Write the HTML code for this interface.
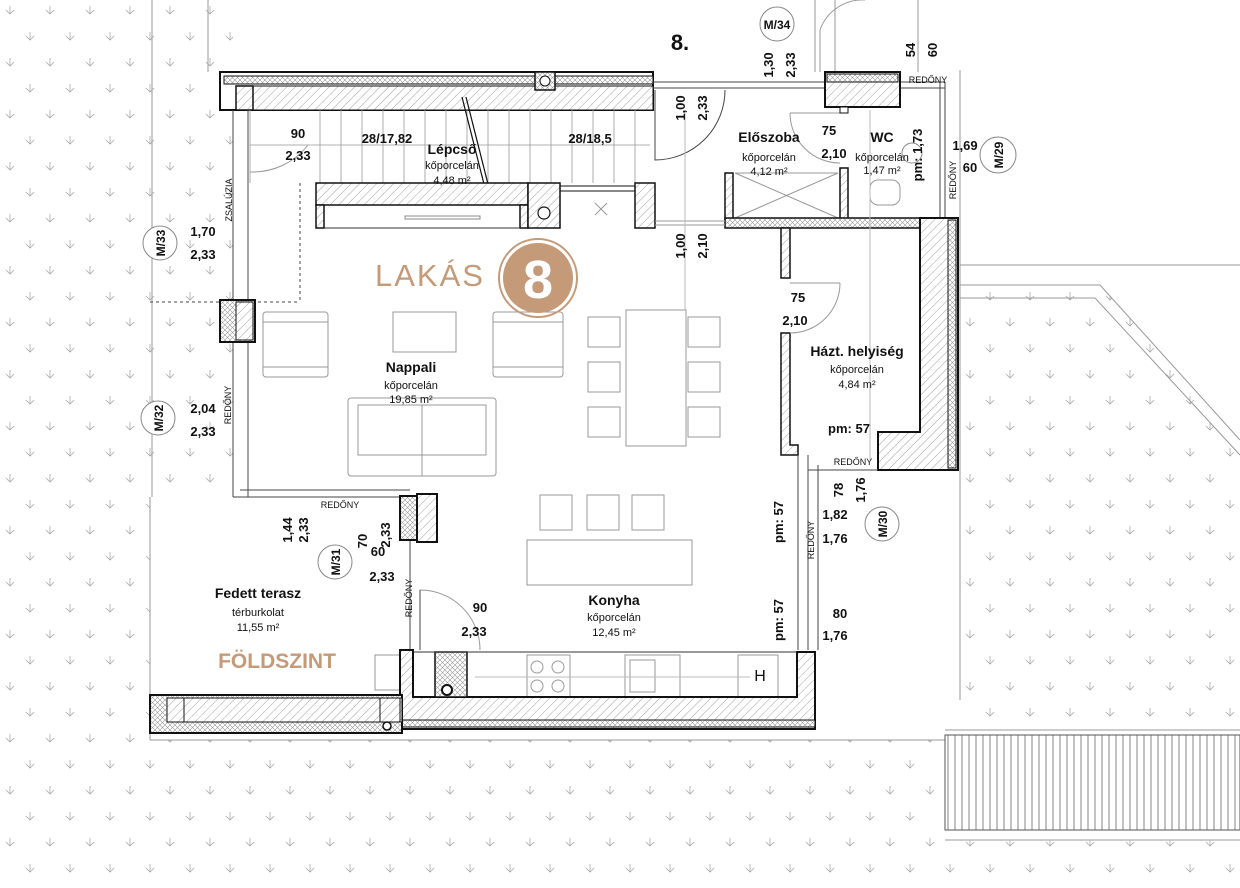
<!DOCTYPE html>
<html><head><meta charset="utf-8"><style>
html,body{margin:0;padding:0;background:#fff}
svg{display:block}
text{font-family:"Liberation Sans",sans-serif;fill:#111}
.b{font-weight:bold;font-size:13px}
.t{font-size:11px}
.h{font-weight:bold;font-size:14px}
.r{font-size:9px}
</style></head><body>
<svg width="1240" height="888" viewBox="0 0 1240 888" xmlns="http://www.w3.org/2000/svg">
<defs>
<pattern id="lawn" width="40" height="52" patternUnits="userSpaceOnUse">
<g stroke="#aaa" stroke-width="0.8" fill="none">
<path d="M10 6v8M6 10l4 4 4-4"/><path d="M30 32v8M26 36l4 4 4-4"/>
</g></pattern>
<pattern id="hat" width="6" height="6" patternUnits="userSpaceOnUse" patternTransform="rotate(45)">
<rect width="6" height="6" fill="#fff"/><line x1="0" y1="0" x2="0" y2="6" stroke="#888" stroke-width="0.8"/></pattern>
<pattern id="xh" width="5" height="5" patternUnits="userSpaceOnUse">
<rect width="5" height="5" fill="#fff"/><path d="M0 0L5 5M5 0L0 5" stroke="#999" stroke-width="0.6"/></pattern>
<pattern id="vl" width="7" height="10" patternUnits="userSpaceOnUse"><line x1="3" y1="0" x2="3" y2="10" stroke="#666" stroke-width="0.8"/></pattern>
</defs>
<!-- lawn -->
<rect x="0" y="0" width="1240" height="888" fill="url(#lawn)"/>
<rect x="233" y="0" width="727" height="740" fill="#fff"/>
<rect x="150" y="497" width="90" height="243" fill="#fff"/>
<polygon points="960,0 1240,0 1240,440 1100,285 960,285" fill="#fff"/>
<rect x="945" y="730" width="295" height="110" fill="#fff"/>
<!-- right garden lines -->
<g stroke="#999" fill="none" stroke-width="1">
<polyline points="960,285 1100,285 1240,440"/>
<polyline points="960,298 1095,298 1240,455"/>
<line x1="960" y1="265" x2="1240" y2="265"/>
<line x1="945" y1="730" x2="1240" y2="730"/><line x1="945" y1="840" x2="1240" y2="840"/>
<line x1="150" y1="740" x2="945" y2="740"/><line x1="150" y1="497" x2="150" y2="740"/>
<line x1="152" y1="0" x2="152" y2="497"/><line x1="208" y1="0" x2="208" y2="72"/>
<line x1="815" y1="0" x2="815" y2="72"/><line x1="960" y1="70" x2="960" y2="700"/>
<line x1="918" y1="0" x2="918" y2="72"/>
</g>
<rect x="945" y="735" width="295" height="95" fill="url(#vl)" stroke="#555"/>
<!-- top wall -->
<rect x="220" y="72" width="433" height="38" fill="#fff" stroke="#111" stroke-width="2"/>
<rect x="224" y="76" width="429" height="8" fill="url(#xh)" stroke="#111"/>
<rect x="236" y="86" width="417" height="24" fill="url(#hat)" stroke="#111"/>
<rect x="236" y="86" width="17" height="24" fill="url(#hat)" stroke="#111" stroke-width="1.5"/>
<rect x="535" y="72" width="20" height="18" fill="url(#xh)" stroke="#111" stroke-width="1.5"/>
<circle cx="545" cy="81" r="5" fill="#fff" stroke="#111"/>
<!-- left wall thin -->
<g stroke="#444" fill="none">
<line x1="233" y1="110" x2="233" y2="497"/><line x1="248" y1="110" x2="248" y2="497"/>
<line x1="233" y1="497" x2="410" y2="497"/><line x1="240" y1="490" x2="410" y2="490"/>
<line x1="150" y1="302" x2="300" y2="302" stroke-dasharray="3 3"/>
<line x1="300" y1="183" x2="300" y2="302" stroke-dasharray="3 3"/>
</g>
<rect x="220" y="300" width="35" height="42" fill="url(#xh)" stroke="#111" stroke-width="2"/>
<rect x="236" y="302" width="17" height="38" fill="url(#hat)" stroke="#111"/>
<!-- stairs -->
<g stroke="#999" stroke-width="0.8">
<line x1="250" y1="110" x2="250" y2="183"/>
<path d="M320 110v73M341 110v73M362 110v73M383 110v73M404 110v73M425 110v73M446 110v73M467 110v73M488 110v73M509 110v73M530 110v73M551 110v73M572 110v73M593 110v73M614 110v73M635 110v73"/>
<line x1="250" y1="145" x2="650" y2="145"/>
</g>
<line x1="462" y1="97" x2="488" y2="200" stroke="#111" stroke-width="1.2"/>
<line x1="466" y1="97" x2="492" y2="200" stroke="#111" stroke-width="1.2"/>
<path d="M250 172 A70 70 0 0 0 308 145" stroke="#999" fill="none"/>
<!-- inner stair wall -->
<rect x="316" y="183" width="212" height="22" fill="url(#hat)" stroke="#111" stroke-width="1.5"/>
<rect x="316" y="205" width="8" height="23" fill="url(#hat)" stroke="#111" stroke-width="1.5"/>
<rect x="520" y="205" width="8" height="23" fill="url(#hat)" stroke="#111" stroke-width="1.5"/>
<line x1="324" y1="228" x2="520" y2="228" stroke="#333"/>
<rect x="405" y="216" width="75" height="3" fill="#fff" stroke="#888"/>
<rect x="528" y="183" width="32" height="45" fill="url(#hat)" stroke="#111" stroke-width="1.5"/>
<circle cx="544" cy="213" r="6" fill="#fff" stroke="#111" stroke-width="1.2"/>
<line x1="560" y1="186" x2="635" y2="186" stroke="#111"/><line x1="560" y1="191" x2="635" y2="191" stroke="#111"/>
<path d="M595 203l12 12M607 203l-12 12" stroke="#999"/>
<rect x="635" y="183" width="20" height="45" fill="url(#hat)" stroke="#111" stroke-width="1.5"/>
<!-- top right front -->
<g stroke="#444" fill="none">
<line x1="653" y1="88" x2="945" y2="88"/><line x1="653" y1="82" x2="945" y2="82"/>
<line x1="940" y1="82" x2="940" y2="218"/><line x1="945" y1="82" x2="945" y2="218"/>
<path d="M655 90 v70 A70 70 0 0 0 725 90"/>
<path d="M820 72 V30 A45 45 0 0 1 865 0" stroke="#999"/>
<line x1="835" y1="0" x2="835" y2="72" stroke="#999"/>
<path d="M790 113 h50 M790 113 A50 50 0 0 0 840 163" stroke="#999"/>
</g>
<rect x="825" y="72" width="75" height="35" fill="url(#hat)" stroke="#111" stroke-width="2"/>
<rect x="827" y="74" width="71" height="8" fill="url(#xh)" stroke="#111"/>
<rect x="840" y="107" width="8" height="6" fill="#fff" stroke="#111"/>
<rect x="725" y="173" width="8" height="48" fill="url(#hat)" stroke="#111" stroke-width="1.5"/>
<rect x="840" y="168" width="8" height="53" fill="url(#hat)" stroke="#111" stroke-width="1.5"/>
<path d="M735 173 L838 218 M838 173 L735 218 M735 173h103" stroke="#999" fill="none"/>
<rect x="870" y="180" width="30" height="25" rx="8" fill="#fff" stroke="#999"/>
<rect x="725" y="218" width="233" height="10" fill="url(#xh)" stroke="#111" stroke-width="1.5"/>
<line x1="655" y1="221" x2="725" y2="221" stroke="#999"/><line x1="655" y1="225" x2="725" y2="225" stroke="#999"/>
<!-- Hazt wall -->
<rect x="781" y="228" width="9" height="50" fill="url(#hat)" stroke="#111" stroke-width="1.5"/>
<path d="M781 333 h9 v112 h8 v10 h-17 z" fill="url(#hat)" stroke="#111" stroke-width="1.5"/>
<path d="M790 283 h50 M790 333 A50 50 0 0 0 840 283" stroke="#999" fill="none"/>
<path d="M920 218 h38 v252 h-80 v-38 h42 z" fill="url(#hat)" stroke="#111" stroke-width="2"/>
<rect x="948" y="220" width="8" height="248" fill="url(#xh)" stroke="#111"/>
<line x1="878" y1="460" x2="878" y2="470" stroke="#111"/>
<line x1="798" y1="455" x2="798" y2="650" stroke="#444"/><line x1="808" y1="455" x2="808" y2="650" stroke="#444"/>
<line x1="818" y1="465" x2="818" y2="650" stroke="#444"/>
<line x1="808" y1="470" x2="878" y2="470" stroke="#444"/>
<line x1="685" y1="110" x2="685" y2="310" stroke="#bbb"/>
<line x1="870" y1="110" x2="870" y2="460" stroke="#bbb"/>
<!-- furniture -->
<g stroke="#999" fill="#fff" stroke-width="1">
<rect x="263" y="312" width="65" height="65" rx="3"/><rect x="263" y="322" width="65" height="45"/>
<rect x="493" y="312" width="70" height="65" rx="3"/><rect x="493" y="322" width="70" height="45"/>
<rect x="393" y="312" width="63" height="40"/>
<rect x="348" y="398" width="148" height="78" rx="3"/><rect x="358" y="405" width="128" height="50"/><line x1="422" y1="405" x2="422" y2="476"/>
<rect x="626" y="310" width="60" height="136"/>
<rect x="588" y="317" width="32" height="30"/><rect x="588" y="362" width="32" height="30"/><rect x="588" y="407" width="32" height="30"/>
<rect x="688" y="317" width="32" height="30"/><rect x="688" y="362" width="32" height="30"/><rect x="688" y="407" width="32" height="30"/>
<rect x="540" y="495" width="32" height="35"/><rect x="587" y="495" width="32" height="35"/><rect x="632" y="495" width="32" height="35"/>
<rect x="527" y="540" width="165" height="45"/>
<rect x="375" y="655" width="25" height="35"/>
<rect x="527" y="655" width="43" height="42"/><circle cx="537" cy="667" r="6"/><circle cx="558" cy="667" r="6"/><circle cx="537" cy="686" r="6"/><circle cx="558" cy="686" r="6"/>
<rect x="625" y="655" width="55" height="42"/><rect x="630" y="660" width="25" height="32"/>
<rect x="738" y="655" width="40" height="42"/>
</g>
<line x1="475" y1="677" x2="750" y2="677" stroke="#bbb"/>
<line x1="410" y1="540" x2="410" y2="650" stroke="#444"/>
<path d="M420 590 A60 60 0 0 1 480 650" stroke="#999" fill="none"/><line x1="420" y1="590" x2="420" y2="650" stroke="#444"/>
<!-- column by terrace -->
<rect x="400" y="496" width="17" height="44" fill="url(#xh)" stroke="#111" stroke-width="2"/>
<rect x="417" y="494" width="20" height="48" fill="url(#hat)" stroke="#111" stroke-width="2"/>
<!-- kitchen wall -->
<path d="M400 650 h13 v47 h384 v-45 h18 v77 h-415 z" fill="url(#hat)" stroke="#111" stroke-width="2"/>
<rect x="400" y="720" width="415" height="7" fill="url(#xh)" stroke="#111"/>
<rect x="435" y="652" width="32" height="45" fill="url(#xh)" stroke="#111" stroke-width="1.5"/>
<circle cx="447" cy="690" r="5" fill="#fff" stroke="#111" stroke-width="2"/>
<line x1="413" y1="652" x2="797" y2="652" stroke="#333"/>
<!-- terrace wall -->
<rect x="150" y="695" width="252" height="38" fill="url(#xh)" stroke="#111" stroke-width="2"/>
<rect x="167" y="698" width="235" height="24" fill="url(#hat)" stroke="#111"/>
<rect x="167" y="698" width="17" height="24" fill="url(#hat)" stroke="#111"/>
<rect x="380" y="698" width="20" height="24" fill="url(#hat)" stroke="#111"/>
<circle cx="387" cy="726" r="4" fill="#fff" stroke="#111" stroke-width="1.5"/>
<!-- LAKAS -->
<text x="430" y="286" font-size="31" text-anchor="middle" style="fill:#c49a78;letter-spacing:2px">LAKÁS</text>
<circle cx="538" cy="278" r="39" fill="none" stroke="#c49a78" stroke-width="2"/>
<circle cx="538" cy="278" r="35" fill="#c49a78"/>
<text x="538" y="298" font-size="54" font-weight="bold" text-anchor="middle" style="fill:#fff">8</text>
<text x="277" y="668" font-size="21" font-weight="bold" text-anchor="middle" style="fill:#c49a78">FÖLDSZINT</text>
<!-- circles -->
<g fill="#fff" stroke="#888">
<circle cx="777" cy="24" r="17"/><circle cx="998" cy="155" r="18"/><circle cx="160" cy="243" r="17"/>
<circle cx="158" cy="418" r="17"/><circle cx="335" cy="562" r="17"/><circle cx="882" cy="524" r="17"/>
<circle cx="912" cy="153" r="10"/>
</g>
<g text-anchor="middle">
<text x="777" y="29" font-size="12" font-weight="bold">M/34</text>
<text transform="translate(1003,155) rotate(-90)" font-size="12" font-weight="bold">M/29</text>
<text transform="translate(165,243) rotate(-90)" font-size="12" font-weight="bold">M/33</text>
<text transform="translate(163,418) rotate(-90)" font-size="12" font-weight="bold">M/32</text>
<text transform="translate(340,562) rotate(-90)" font-size="12" font-weight="bold">M/31</text>
<text transform="translate(887,524) rotate(-90)" font-size="12" font-weight="bold">M/30</text>
</g>
<text x="680" y="50" font-size="22" font-weight="bold" text-anchor="middle">8.</text>
<g text-anchor="middle" font-size="13" font-weight="bold">
<text transform="translate(773,65) rotate(-90)">1,30</text>
<text transform="translate(795,65) rotate(-90)">2,33</text>
<text transform="translate(915,50) rotate(-90)">54</text>
<text transform="translate(937,50) rotate(-90)">60</text>
<text transform="translate(685,108) rotate(-90)">1,00</text>
<text transform="translate(707,108) rotate(-90)">2,33</text>
<text transform="translate(685,246) rotate(-90)">1,00</text>
<text transform="translate(707,246) rotate(-90)">2,10</text>
<text transform="translate(922,155) rotate(-90)">pm: 1,73</text>
<text x="829" y="135">75</text><text x="834" y="158">2,10</text>
<text x="965" y="150">1,69</text><text x="970" y="172">60</text>
<text x="298" y="138">90</text><text x="298" y="160">2,33</text>
<text x="387" y="143">28/17,82</text><text x="590" y="143">28/18,5</text>
<text x="203" y="236">1,70</text><text x="203" y="259">2,33</text>
<text x="798" y="302">75</text><text x="795" y="325">2,10</text>
<text x="849" y="433">pm: 57</text>
<text x="203" y="413">2,04</text><text x="203" y="436">2,33</text>
<text transform="translate(292,530) rotate(-90)">1,44</text>
<text transform="translate(308,530) rotate(-90)">2,33</text>
<text transform="translate(367,541) rotate(-90)">70</text>
<text transform="translate(390,535) rotate(-90)">2,33</text>
<text x="378" y="556">60</text><text x="382" y="581">2,33</text>
<text x="480" y="612">90</text><text x="474" y="636">2,33</text>
<text transform="translate(783,522) rotate(-90)">pm: 57</text>
<text transform="translate(783,620) rotate(-90)">pm: 57</text>
<text transform="translate(843,490) rotate(-90)">78</text>
<text transform="translate(865,490) rotate(-90)">1,76</text>
<text x="835" y="519">1,82</text><text x="835" y="543">1,76</text>
<text x="840" y="618">80</text><text x="835" y="640">1,76</text>
</g>
<g text-anchor="middle">
<text x="452" y="154" class="h">Lépcső</text><text x="452" y="169" class="t">kőporcelán</text><text x="452" y="184" class="t">4,48 m²</text>
<text x="769" y="142" class="h">Előszoba</text><text x="769" y="161" class="t">kőporcelán</text><text x="769" y="175" class="t">4,12 m²</text>
<text x="882" y="142" class="h">WC</text><text x="882" y="161" class="t">kőporcelán</text><text x="882" y="174" class="t">1,47 m²</text>
<text x="857" y="356" class="h">Házt. helyiség</text><text x="857" y="373" class="t">kőporcelán</text><text x="857" y="388" class="t">4,84 m²</text>
<text x="411" y="372" class="h">Nappali</text><text x="411" y="389" class="t">kőporcelán</text><text x="411" y="403" class="t">19,85 m²</text>
<text x="258" y="598" class="h">Fedett terasz</text><text x="258" y="616" class="t">térburkolat</text><text x="258" y="631" class="t">11,55 m²</text>
<text x="614" y="605" class="h">Konyha</text><text x="614" y="621" class="t">kőporcelán</text><text x="614" y="636" class="t">12,45 m²</text>
<text x="760" y="681" font-size="16">H</text>
<text x="928" y="83" class="r">REDŐNY</text>
<text x="853" y="465" class="r">REDŐNY</text>
<text x="340" y="508" class="r">REDŐNY</text>
<text transform="translate(956,180) rotate(-90)" class="r">REDŐNY</text>
<text transform="translate(232,200) rotate(-90)" class="r">ZSALÚZIA</text>
<text transform="translate(231,405) rotate(-90)" class="r">REDŐNY</text>
<text transform="translate(412,598) rotate(-90)" class="r">REDŐNY</text>
<text transform="translate(814,540) rotate(-90)" class="r">REDŐNY</text>
</g>
</svg>
</body></html>
